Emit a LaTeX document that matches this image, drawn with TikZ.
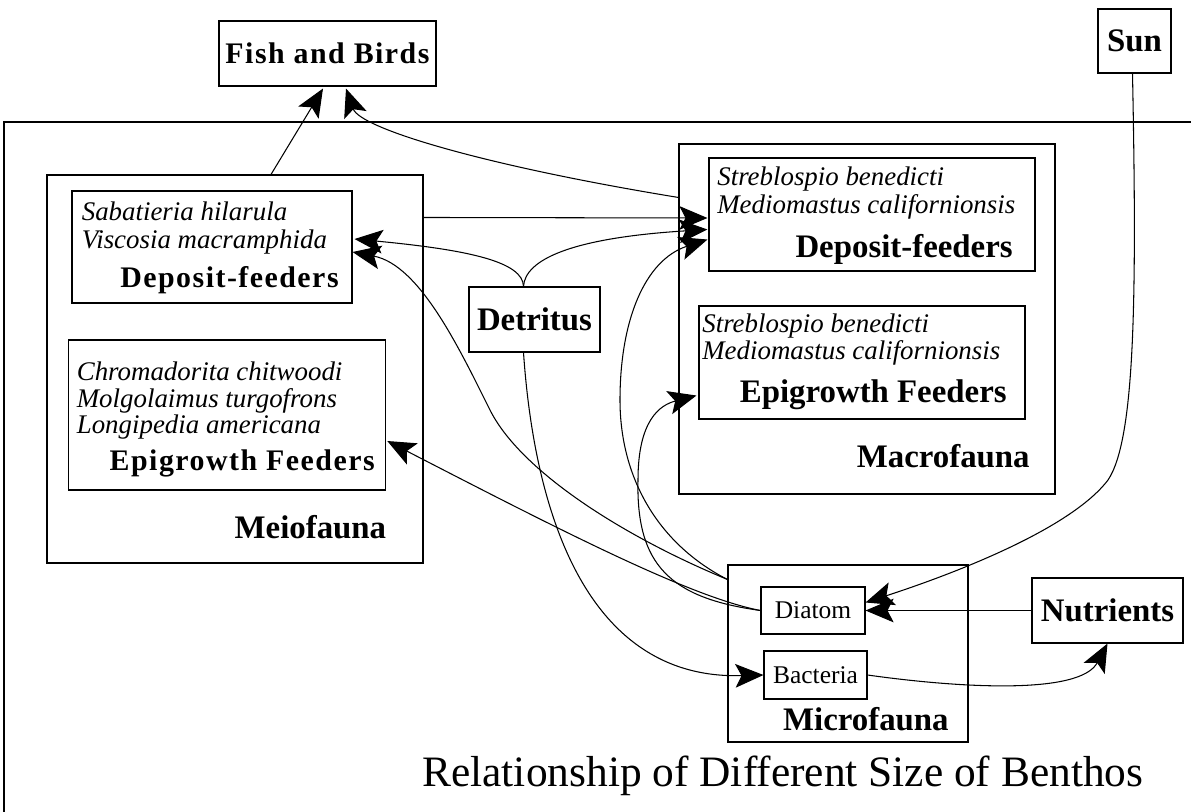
\documentclass[tikz,border=0pt]{standalone}
\usepackage{fontspec}
\setmainfont{Liberation Serif}
\newfontfamily\widefont{Liberation Serif}[LetterSpace=5]
\usetikzlibrary{arrows.meta,calc}

\tikzset{
  box/.style 2 args={draw,line width=.6pt,minimum width=#1*0.02cm,minimum height=#2*0.02cm,inner sep=0pt},
  head/.style={font=\fontsize{18.7}{20}\selectfont\bfseries},
  wide/.style={font=\fontsize{17}{18}\selectfont\widefont\bfseries},
  spec/.style={font=\fontsize{15.3}{16}\selectfont\itshape,anchor=base west,inner sep=0pt},
  cell/.style={font=\fontsize{14.5}{16}\selectfont},
  link/.style={->,line width=.6pt},
}

\begin{document}
\begin{tikzpicture}[x=0.02cm,y=-0.02cm,>={Stealth[length=16pt,width=13.5pt,inset=3.5pt]}]
\useasboundingbox (0,0) rectangle (1191,812);
\draw[line width=.6pt] (4,812) -- (4,122) -- (1191,122);

\node[box={217}{65},wide] (fish) at (327.5,53.5) {Fish and Birds};
\node[box={73}{64},head] (sun) at (1134.5,41) {Sun};

% meiofauna
\node[box={376}{388}] (meio) at (235,369) {};
\node[box={280}{112}] (meidep) at (212,247) {};
\node[spec] (sab) at (81.5,220) {Sabatieria hilarula};
\node[spec] (vis) at (81.5,248) {Viscosia macramphida};
\node[wide,anchor=base east,inner sep=0pt] (meideplbl) at (339,287) {Deposit-feeders};
\node[box={317.5}{150}] (meioepi) at (227,415) {};
\node[spec] (chr) at (76.5,380) {Chromadorita chitwoodi};
\node[spec] (mol) at (76.5,407) {Molgolaimus turgofrons};
\node[spec] (lon) at (76.5,433) {Longipedia americana};
\node[wide,anchor=base east,inner sep=0pt] (meioepilbl) at (375,470) {Epigrowth Feeders};
\node[head,anchor=base east,inner sep=0pt] (meiolbl) at (386.5,538) {Meiofauna};

\node[box={131}{65},head] (detritus) at (534.5,319.5) {Detritus};

% macrofauna
\node[box={376}{350}] (macro) at (867,319) {};
\node[box={326}{113}] (macrodep) at (872,214.5) {};
\node[spec] (str1) at (717,185) {Streblospio benedicti};
\node[spec] (med1) at (717,213) {Mediomastus californionsis};
\node[head,anchor=base east,inner sep=0pt] (macdeplbl) at (1013,257) {Deposit-feeders};
\node[box={326}{113}] (macroepi) at (862,362.5) {};
\node[spec] (str2) at (702,332) {Streblospio benedicti};
\node[spec] (med2) at (702,359) {Mediomastus californionsis};
\node[head,anchor=base east,inner sep=0pt] (macepilbl) at (1007,402) {Epigrowth Feeders};
\node[head,anchor=base east,inner sep=0pt] (macrolbl) at (1030,467) {Macrofauna};

% microfauna
\node[box={240}{177}] (micro) at (848,653.5) {};
\node[box={104}{47},cell] (diatom) at (813,610.5) {Diatom};
\node[box={103}{48},cell] (bacteria) at (815.5,675) {Bacteria};
\node[head,anchor=base east,inner sep=0pt] (microlbl) at (949,730) {Microfauna};
\node[box={151}{65},head] (nutrients) at (1107.5,610.5) {Nutrients};

\node[font=\fontsize{24.7}{26}\selectfont,anchor=base west,inner sep=0pt] (title) at (422,786) {Relationship of Different Size of Benthos};

\draw[link] ($(meio.north)+(36,0)$) -- ($(fish.south)+(-4.5,2)$);
\draw[link] ($(macro.north west)+(0,54)$) .. controls (480,165) and (360,128) .. ($(fish.south)+(18.5,2)$);
\draw[link] ($(meio.north east)+(0,43)$) -- ($(macrodep.west)+(-1,3.5)$);
\draw[link] ($(detritus.north)+(-11,0)$) .. controls (523,262) and (470,250) .. ($(meidep.east)+(2,-8)$);
\draw[link] ($(detritus.north)+(-11,0)$) .. controls (525,260) and (570,238) .. ($(macrodep.west)+(-1,15)$);
\draw[link] ($(micro.north west)+(0,15)$) .. controls (620,535) and (520,470) .. (490,410) .. controls (460,350) and (420,265) .. ($(meidep.east)+(0,5)$);
\draw[link] ($(micro.north west)+(0,15)$) .. controls (660,545) and (620,480) .. (620,400) .. controls (620,320) and (645,260) .. ($(macrodep.west)+(-1,25)$);
\draw[link] ($(detritus.south)+(-11,0)$) .. controls (535,520) and (590,680) .. (bacteria.west);
\draw[link] (diatom.west) .. controls (670,598) and (636,565) .. (638,480) .. controls (638,420) and (660,405) .. ($(macroepi.south west)+(-2,-24)$);
\draw[link] (diatom.west) .. controls (690,597) and (560,530) .. ($(meioepi.east)+(1,26)$);
\draw[link] ($(sun.south)+(-2,0)$) .. controls (1137,300) and (1135,440) .. (1108,480) .. controls (1070,530) and (950,575) .. ($(diatom.east)+(0,-8)$);
\draw[link] (nutrients.west) -- (diatom.east);
\draw[link] (bacteria.east) .. controls (960,688) and (1080,695) .. (nutrients.south);
\end{tikzpicture}
\end{document}
